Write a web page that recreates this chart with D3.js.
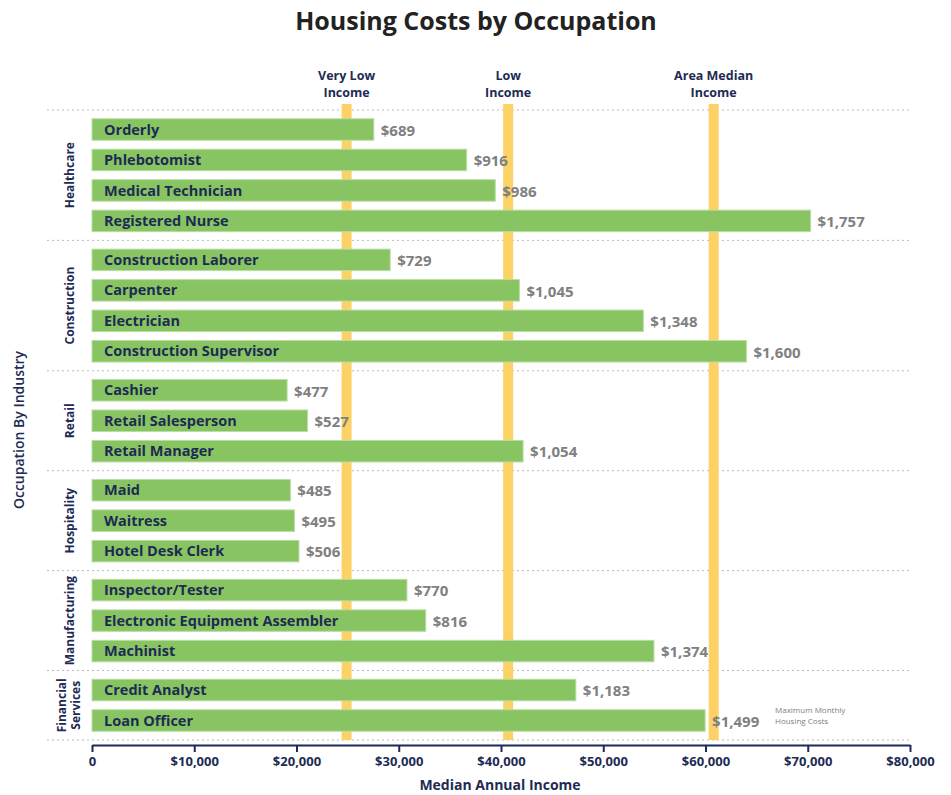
<!DOCTYPE html>
<html>
<head>
<meta charset="utf-8">
<script src="https://cdn.jsdelivr.net/npm/d3@7/dist/d3.min.js"></script>
<style>
  body { margin: 0; background: #fff; }
  svg { display: block; }
  text { font-family: "Open Sans", "DejaVu Sans", sans-serif; }
</style>
</head>
<body>
<svg id="chart" width="951" height="795"></svg>
<script>
// ---------- data ----------
const groups = ["Healthcare", "Construction", "Retail", "Hospitality", "Manufacturing", "Financial Services"];
const occupations = [
  "Orderly", "Phlebotomist", "Medical Technician", "Registered Nurse",
  "Construction Laborer", "Carpenter", "Electrician", "Construction Supervisor",
  "Cashier", "Retail Salesperson", "Retail Manager",
  "Maid", "Waitress", "Hotel Desk Clerk",
  "Inspector/Tester", "Electronic Equipment Assembler", "Machinist",
  "Credit Analyst", "Loan Officer"
];
const occupationGroup = [
  "Healthcare", "Healthcare", "Healthcare", "Healthcare",
  "Construction", "Construction", "Construction", "Construction",
  "Retail", "Retail", "Retail",
  "Hospitality", "Hospitality", "Hospitality",
  "Manufacturing", "Manufacturing", "Manufacturing",
  "Financial Services", "Financial Services"
];
const medianIncome = [
  27560, 36640, 39440, 70280,
  29160, 41800, 53920, 64000,
  19080, 21080, 42160,
  19400, 19800, 20240,
  30800, 32640, 54960,
  47320, 59960
];
const housingCost = [
  689, 916, 986, 1757,
  729, 1045, 1348, 1600,
  477, 527, 1054,
  485, 495, 506,
  770, 816, 1374,
  1183, 1499
];
const thresholdNames = [["Very Low", "Income"], ["Low", "Income"], ["Area Median", "Income"]];
const thresholdValues = [24900, 40700, 60800];
const xTicks = [0, 10000, 20000, 30000, 40000, 50000, 60000, 70000, 80000];

// ---------- layout ----------
const svg = d3.select("#chart");
const navy = "#1d2b54";
const green = "#88c462";
const yellow = "#fcd266";
const gray = "#808080";

const x = d3.scaleLinear().domain([0, 80000]).range([92, 910]);

// vertical layout in units: each row = 1 unit, group padding = p units
const pad = 0.28;
let unit = 0;
const rowPos = [];
const groupSpan = [];
groups.forEach(g => {
  const start = unit;
  unit += pad / 2;
  occupations.forEach((o, i) => {
    if (occupationGroup[i] === g) { rowPos[i] = unit + 0.5; unit += 1; }
  });
  unit += pad / 2;
  groupSpan.push([start, unit]);
});
const y = d3.scaleLinear().domain([0, unit]).range([110, 740]);
const barH = 21.5;

// title
svg.append("text")
  .attr("x", 476).attr("y", 30)
  .attr("text-anchor", "middle")
  .attr("font-size", 25).attr("font-weight", 700)
  .attr("fill", "#222")
  .text("Housing Costs by Occupation");

// group separators
const seps = [groupSpan[0][0]].concat(groupSpan.map(s => s[1]));
svg.append("g").selectAll("line").data(seps).join("line")
  .attr("x1", 47).attr("x2", 910)
  .attr("y1", d => y(d)).attr("y2", d => y(d))
  .attr("stroke", "#bbb").attr("stroke-width", 1)
  .attr("stroke-dasharray", "2,3");

// threshold lines
svg.append("g").selectAll("rect").data(thresholdValues).join("rect")
  .attr("x", d => x(d) - 5).attr("width", 10)
  .attr("y", 104).attr("height", 740 - 104)
  .attr("fill", yellow);

// threshold labels (separate text per line)
const tl = svg.append("g");
thresholdValues.forEach((v, i) => {
  thresholdNames[i].forEach((line, j) => {
    tl.append("text")
      .attr("x", x(v)).attr("y", 80 + j * 17)
      .attr("text-anchor", "middle")
      .attr("font-size", 12.5).attr("font-weight", 700)
      .attr("fill", navy)
      .text(line);
  });
});

// bars
const bars = svg.append("g");
bars.selectAll("rect").data(medianIncome).join("rect")
  .attr("x", x(0))
  .attr("y", (d, i) => y(rowPos[i]) - barH / 2)
  .attr("width", d => x(d) - x(0))
  .attr("height", barH)
  .attr("fill", green)
  .attr("stroke", "#b9dda2").attr("stroke-width", 1);

// bar labels
bars.selectAll("text.name").data(occupations).join("text")
  .attr("class", "name")
  .attr("x", 104)
  .attr("y", (d, i) => y(rowPos[i]))
  .attr("dy", "0.35em")
  .attr("font-size", 14.5).attr("font-weight", 700)
  .attr("fill", navy)
  .text(d => d);

// value labels
bars.selectAll("text.val").data(housingCost).join("text")
  .attr("class", "val")
  .attr("x", (d, i) => x(medianIncome[i]) + 7)
  .attr("y", (d, i) => y(rowPos[i]) + 1)
  .attr("dy", "0.35em")
  .attr("font-size", 15).attr("font-weight", 700)
  .attr("fill", gray)
  .text(d => "$" + d3.format(",")(d));

// annotation
svg.append("text")
  .attr("x", 775).attr("y", 713)
  .attr("font-size", 8).attr("fill", gray)
  .text("Maximum Monthly");
svg.append("text")
  .attr("x", 775).attr("y", 724)
  .attr("font-size", 8).attr("fill", gray)
  .text("Housing Costs");

// group labels
groups.forEach((g, i) => {
  const cy = (y(groupSpan[i][0]) + y(groupSpan[i][1])) / 2;
  const lines = g === "Financial Services" ? ["Financial", "Services"] : [g];
  lines.forEach((l, j) => {
    const gx = lines.length === 2 ? 62 + j * 14 : 70;
    svg.append("text")
      .attr("transform", `translate(${gx + 4},${cy}) rotate(-90)`)
      .attr("text-anchor", "middle")
      .attr("font-size", 12).attr("font-weight", 700)
      .attr("fill", navy)
      .text(l);
  });
});

// y axis title
svg.append("text")
  .attr("transform", "translate(24,430) rotate(-90)")
  .attr("text-anchor", "middle")
  .attr("font-size", 14).attr("font-weight", 600)
  .attr("fill", navy)
  .text("Occupation By Industry");

// x axis
const xAxis = d3.axisBottom(x)
  .tickValues(xTicks)
  .tickSize(7)
  .tickSizeOuter(0)
  .tickFormat(d => d === 0 ? "0" : "$" + d3.format(",")(d));
const ax = svg.append("g").attr("transform", "translate(0,745)").call(xAxis);
ax.select(".domain").attr("stroke", navy).attr("stroke-width", 2);
ax.selectAll(".tick line").attr("stroke", navy).attr("stroke-width", 2);
ax.selectAll(".tick text")
  .attr("fill", navy).attr("font-size", 13).attr("font-weight", 700)
  .attr("font-family", "\"Open Sans\", sans-serif")
  .attr("y", 12);

svg.append("text")
  .attr("x", 500).attr("y", 790)
  .attr("text-anchor", "middle")
  .attr("font-size", 14).attr("font-weight", 700)
  .attr("fill", navy)
  .text("Median Annual Income");
</script>
</body>
</html>
